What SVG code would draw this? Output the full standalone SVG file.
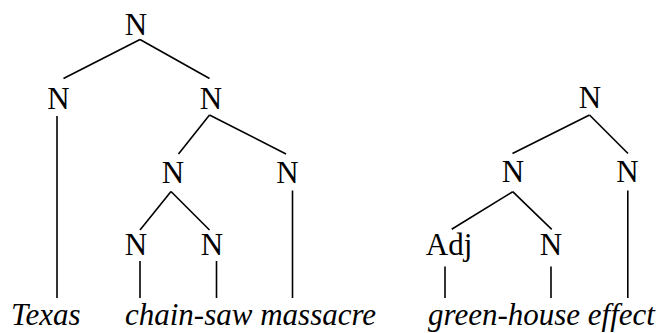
<svg xmlns="http://www.w3.org/2000/svg" width="665" height="333" viewBox="0 0 665 333">
  <style>
    .cat { font-family: "Liberation Serif", "Times New Roman", serif; font-size: 31px; fill: #000; text-anchor: middle; }
    .word { font-family: "Liberation Serif", "Times New Roman", serif; font-size: 31px; font-style: italic; fill: #000; }
    .edge { stroke: #000; stroke-width: 1.6; fill: none; stroke-linecap: butt; }
  </style>
  <rect width="665" height="333" fill="#fff"/>

  <!-- Tree 1: Texas chain-saw massacre -->
  <g id="t1-root"><text class="cat" x="136" y="35">N</text></g>
  <g id="t1-n-texas"><text class="cat" x="58.5" y="109">N</text></g>
  <g id="t1-n-right"><text class="cat" x="211" y="109">N</text></g>
  <g id="t1-n-chainsaw"><text class="cat" x="173" y="183">N</text></g>
  <g id="t1-n-massacre"><text class="cat" x="287.5" y="183">N</text></g>
  <g id="t1-n-chain"><text class="cat" x="136" y="255">N</text></g>
  <g id="t1-n-saw"><text class="cat" x="212" y="255">N</text></g>
  <g id="t1-word-texas"><text class="word" x="11" y="325">Texas</text></g>
  <g id="t1-words"><text class="word" x="125" y="325">chain-saw massacre</text></g>

  <!-- Tree 2: green-house effect -->
  <g id="t2-root"><text class="cat" x="590" y="108">N</text></g>
  <g id="t2-n-left"><text class="cat" x="513" y="182">N</text></g>
  <g id="t2-n-effect"><text class="cat" x="627.5" y="182">N</text></g>
  <g id="t2-adj"><text class="cat" x="449" y="255">Adj</text></g>
  <g id="t2-n-house"><text class="cat" x="551" y="255">N</text></g>
  <g id="t2-words"><text class="word" x="428" y="325">green-house effect</text></g>

  <!-- Branches -->
  <g id="connectors" class="edge">
    <line x1="140" y1="39.5" x2="63.5" y2="78.5"/>
    <line x1="140" y1="39.5" x2="209.5" y2="78.5"/>
    <line x1="57" y1="116" x2="57" y2="298"/>
    <line x1="209.5" y1="115" x2="178.5" y2="154"/>
    <line x1="209.5" y1="115" x2="286" y2="154"/>
    <line x1="171" y1="191.5" x2="140" y2="230"/>
    <line x1="171" y1="191.5" x2="209.5" y2="230"/>
    <line x1="292.5" y1="190.5" x2="292.5" y2="298"/>
    <line x1="140" y1="261" x2="140" y2="298"/>
    <line x1="216.5" y1="261" x2="216.5" y2="298"/>

    <line x1="589.5" y1="115" x2="512.5" y2="153.5"/>
    <line x1="589.5" y1="115" x2="628" y2="153.5"/>
    <line x1="627.8" y1="190.5" x2="627.8" y2="298"/>
    <line x1="512.7" y1="191.7" x2="451.7" y2="229.3"/>
    <line x1="512.7" y1="191.7" x2="551.7" y2="229.3"/>
    <line x1="445" y1="266.5" x2="445" y2="298"/>
    <line x1="551" y1="266.5" x2="551" y2="298"/>
  </g>
</svg>
